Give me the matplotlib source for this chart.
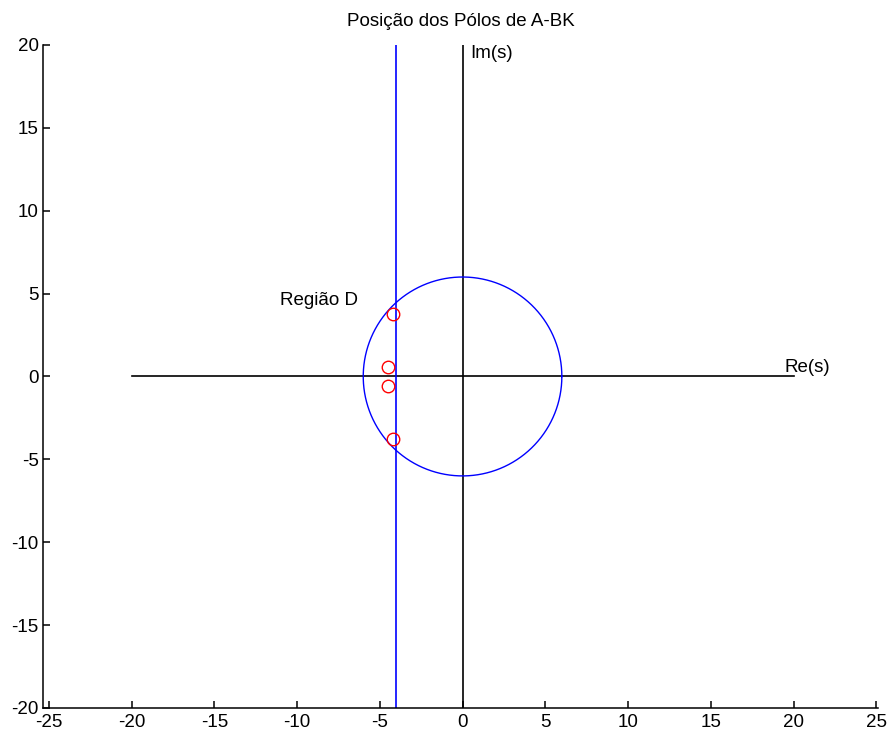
import numpy as np
import matplotlib
matplotlib.use("Agg")
import matplotlib.pyplot as plt

plt.rcParams["font.family"] = ["Liberation Sans", "DejaVu Sans"]
plt.rcParams["axes.unicode_minus"] = False

# poles of A-BK
pole_re = [-4.2, -4.5, -4.5, -4.2]
pole_im = [3.75, 0.55, -0.55, -3.75]

# region D: circle of radius 6 and vertical line at Re = -4
radius = 6
re_limit = -4

xticks = [-25, -20, -15, -10, -5, 0, 5, 10, 15, 20, 25]
yticks = [-20, -15, -10, -5, 0, 5, 10, 15, 20]

fig = plt.figure(figsize=(8.88, 7.31), dpi=100)
ax = fig.add_axes([0.0484, 0.0315, 0.9403, 0.907])

theta = np.linspace(0, 2 * np.pi, 400)
ax.plot([-20, 20], [0, 0], color="black", lw=1.2)
ax.plot([0, 0], [-20, 20], color="black", lw=1.2)
ax.plot([re_limit, re_limit], [-20, 20], color="blue", lw=1.2)
ax.plot(radius * np.cos(theta), radius * np.sin(theta), color="blue", lw=1.0)
ax.plot(pole_re, pole_im, "o", mfc="none", mec="red", ms=9, mew=1.0, ls="none")

ax.text(0.45, 19.5, "Im(s)", fontsize=13.5, va="center", ha="left")
ax.text(19.45, 0.55, "Re(s)", fontsize=13.5, va="center", ha="left")
ax.text(-11, 4.6, "Região D", fontsize=13.5, va="center", ha="left")

ax.set_xlim(-25.35, 25.1)
ax.set_ylim(-20, 20)
ax.set_xticks(xticks)
ax.set_yticks(yticks)
ax.tick_params(direction="in", length=5, labelsize=13.5, width=1.1, pad=3)
ax.tick_params(axis="x", pad=4)
for side in ["left", "bottom"]:
    ax.spines[side].set_linewidth(1.1)
ax.spines["top"].set_visible(False)
ax.spines["right"].set_visible(False)
ax.set_title("Posição dos Pólos de A-BK", fontsize=13.5, pad=14)

fig.savefig("out.png", dpi=100)
